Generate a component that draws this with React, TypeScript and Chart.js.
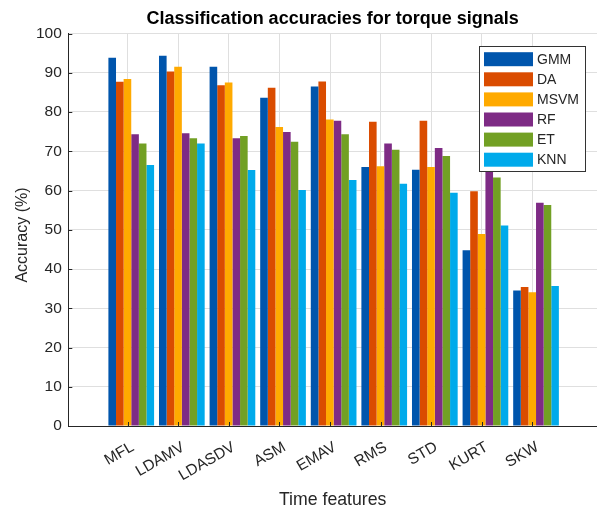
import React, { useEffect, useRef } from "react";
import { Chart, registerables } from "chart.js";

Chart.register(...registerables);

// Time-domain features on the x axis
const features = ["MFL", "LDAMV", "LDASDV", "ASM", "EMAV", "RMS", "STD", "KURT", "SKW"];

// Classification accuracy (%) of each classifier per feature
const gmm = [93.8, 94.3, 91.5, 83.6, 86.5, 66.0, 65.3, 44.8, 34.5];
const da = [87.7, 90.3, 86.8, 86.2, 87.8, 77.5, 77.8, 59.8, 35.4];
const msvm = [88.4, 91.5, 87.5, 76.2, 78.1, 66.2, 66.0, 48.9, 34.1];
const rf = [74.3, 74.6, 73.3, 74.9, 77.8, 72.0, 70.8, 67.0, 56.9];
const et = [72.0, 73.3, 73.9, 72.4, 74.3, 70.4, 68.8, 63.3, 56.3];
const knn = [66.5, 72.0, 65.2, 60.1, 62.7, 61.7, 59.4, 51.1, 35.7];

const classifiers = ["GMM", "DA", "MSVM", "RF", "ET", "KNN"];
const classifierColors = ["#0055ac", "#da4c00", "#ffaa00", "#7e2b85", "#72a024", "#00aaeb"];

const yTicks = [0, 10, 20, 30, 40, 50, 60, 70, 80, 90, 100];

const TITLE = "Classification accuracies for torque signals";
const X_TITLE = "Time features";
const Y_TITLE = "Accuracy (%)";

const FONT = "'Liberation Sans', Arial, Helvetica, sans-serif";
const TEXT = "#262626";
const GRID = "#dfdfdf";

// axis limits and small offset of each bar group from its tick
const X_MIN = -0.174;
const X_MAX = 10.275;
const GROUP_SHIFT = 0.07;

const W = 597;
const H = 509;

const series = [gmm, da, msvm, rf, et, knn];

const decorations = {
  id: "decorations",
  afterDatasetsDraw(chart: any) {
    const { ctx, chartArea, scales } = chart;
    const xs = scales.x;
    const ys = scales.y;
    ctx.save();
    // inward tick marks
    ctx.strokeStyle = TEXT;
    ctx.lineWidth = 1;
    ctx.beginPath();
    yTicks.forEach((v) => {
      const py = Math.round(ys.getPixelForValue(v)) + 0.5;
      ctx.moveTo(chartArea.left, py);
      ctx.lineTo(chartArea.left + 4, py);
    });
    features.forEach((_, i) => {
      const px = Math.round(xs.getPixelForValue(i + 1)) + 0.5;
      ctx.moveTo(px, chartArea.bottom);
      ctx.lineTo(px, chartArea.bottom - 4);
    });
    ctx.stroke();

    // legend box
    const lx = 479.5;
    const ly = 46.5;
    const lw = 106;
    const lh = 125;
    ctx.fillStyle = "#ffffff";
    ctx.fillRect(lx, ly, lw, lh);
    ctx.strokeStyle = "#333333";
    ctx.strokeRect(lx, ly, lw, lh);
    ctx.font = `14px ${FONT}`;
    ctx.textBaseline = "middle";
    ctx.textAlign = "left";
    classifiers.forEach((name, i) => {
      const cy = 59.2 + i * 20.1;
      ctx.fillStyle = classifierColors[i];
      ctx.fillRect(484, cy - 7, 49, 14);
      ctx.fillStyle = TEXT;
      ctx.fillText(name, 537, cy + 0.5);
    });

    // titles
    const cx = (chartArea.left + chartArea.right) / 2;
    ctx.fillStyle = "#000000";
    ctx.textAlign = "center";
    ctx.textBaseline = "alphabetic";
    ctx.font = `bold 18px ${FONT}`;
    ctx.fillText(TITLE, cx, 24);
    ctx.fillStyle = TEXT;
    ctx.font = `17.7px ${FONT}`;
    ctx.fillText(X_TITLE, cx, 505);
    ctx.font = `16px ${FONT}`;
    ctx.translate(27, 235);
    ctx.rotate(-Math.PI / 2);
    ctx.fillText(Y_TITLE, 0, 0);
    ctx.restore();
  },
};

export default function App() {
  const canvasRef = useRef<HTMLCanvasElement | null>(null);

  useEffect(() => {
    const canvas = canvasRef.current;
    if (!canvas) return;
    const chart = new Chart(canvas, {
      type: "bar",
      data: {
        datasets: classifiers.map((name, k) => ({
          label: name,
          data: series[k].map((v, i) => ({ x: i + 1 + GROUP_SHIFT, y: v })),
          backgroundColor: classifierColors[k],
          borderWidth: 0,
          barPercentage: 1,
          categoryPercentage: 0.903,
        })),
      },
      options: {
        responsive: false,
        maintainAspectRatio: false,
        animation: false,
        events: [],
        layout: { padding: { top: 33.5, right: 0, bottom: 0, left: 0 } },
        plugins: {
          legend: { display: false },
          title: { display: false },
          tooltip: { enabled: false },
        },
        scales: {
          x: {
            type: "linear",
            min: X_MIN,
            max: X_MAX,
            offset: false,
            afterBuildTicks: (s: any) => {
              s.ticks = features.map((_, i) => ({ value: i + 1 }));
            },
            afterFit: (s: any) => {
              s.height = 83;
              s.paddingLeft = 0;
              s.paddingRight = 0;
            },
            grid: { color: GRID, drawTicks: false, lineWidth: 1, offset: false },
            border: { color: TEXT, width: 1 },
            ticks: {
              autoSkip: false,
              minRotation: 30,
              maxRotation: 30,
              padding: 12,
              labelOffset: 5,
              color: TEXT,
              font: { family: FONT, size: 15.5 },
              callback: (v: any) => features[Math.round(Number(v)) - 1] ?? "",
            },
          },
          y: {
            min: 0,
            max: 100,
            afterBuildTicks: (s: any) => {
              s.ticks = yTicks.map((v) => ({ value: v }));
            },
            afterFit: (s: any) => {
              s.width = 68.3;
            },
            grid: { color: GRID, drawTicks: false, lineWidth: 1 },
            border: { color: TEXT, width: 1 },
            ticks: {
              padding: 6.5,
              color: TEXT,
              font: { family: FONT, size: 15.5 },
            },
          },
        },
      },
      plugins: [decorations],
    } as any);
    return () => chart.destroy();
  }, []);

  return (
    <div style={{ position: "fixed", left: 0, top: 0, width: W, height: H, background: "#ffffff" }}>
      <canvas ref={canvasRef} width={W} height={H} style={{ display: "block", width: W, height: H }} />
    </div>
  );
}
